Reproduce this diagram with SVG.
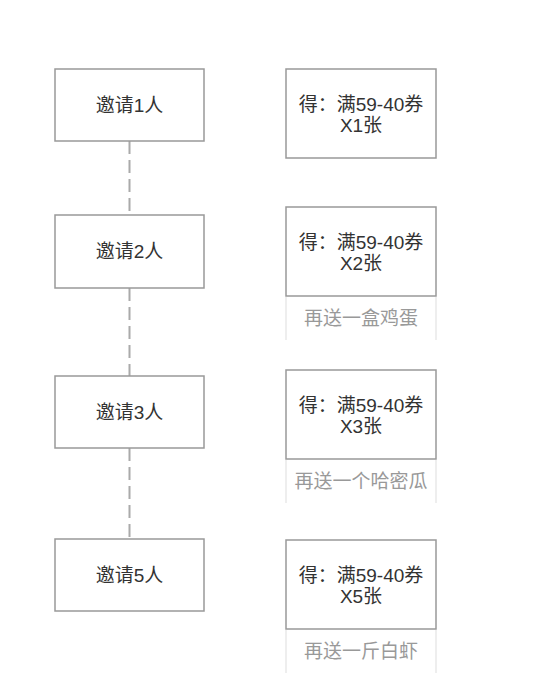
<svg xmlns="http://www.w3.org/2000/svg" width="534" height="696" viewBox="0 0 534 696">
<style>
.box{fill:#fff;stroke:#999;stroke-width:1.5}
.t{font-family:"Liberation Sans","Noto Sans CJK SC",sans-serif;font-size:19px;fill:#333;text-anchor:middle}
.s{font-family:"Liberation Sans","Noto Sans CJK SC",sans-serif;font-size:19px;fill:#999;text-anchor:middle}
.side{stroke:#e8e8e8;stroke-width:1.5}
.dash{stroke:#aaa;stroke-width:2;stroke-dasharray:13 6;fill:none}
</style>
<rect width="534" height="696" fill="#fff"/>
<g id="connectors">
<line class="dash" x1="129.5" y1="141" x2="129.5" y2="215"/>
<line class="dash" x1="129.5" y1="288" x2="129.5" y2="376"/>
<line class="dash" x1="129.5" y1="448" x2="129.5" y2="539"/>
</g>
<g id="invite1"><rect class="box" x="55" y="69" width="149" height="72"/><text class="t" x="129.5" y="112">邀请1人</text></g>
<g id="invite2"><rect class="box" x="55" y="215" width="149" height="73"/><text class="t" x="129.5" y="258">邀请2人</text></g>
<g id="invite3"><rect class="box" x="55" y="376" width="149" height="72"/><text class="t" x="129.5" y="419">邀请3人</text></g>
<g id="invite5"><rect class="box" x="55" y="539" width="149" height="72"/><text class="t" x="129.5" y="582">邀请5人</text></g>
<g id="reward1"><rect class="box" x="286" y="69" width="150" height="89"/><text class="t" x="361" y="111">得：满59-40券</text><text class="t" x="361" y="132">X1张</text></g>
<g id="reward2"><rect class="box" x="286" y="207" width="150" height="89"/><text class="t" x="361" y="249">得：满59-40券</text><text class="t" x="361" y="270">X2张</text>
<line class="side" x1="286" y1="297" x2="286" y2="340"/><line class="side" x1="436" y1="297" x2="436" y2="340"/><text class="s" x="361" y="325">再送一盒鸡蛋</text></g>
<g id="reward3"><rect class="box" x="286" y="370" width="150" height="89"/><text class="t" x="361" y="412">得：满59-40券</text><text class="t" x="361" y="433">X3张</text>
<line class="side" x1="286" y1="460" x2="286" y2="503"/><line class="side" x1="436" y1="460" x2="436" y2="503"/><text class="s" x="361" y="488">再送一个哈密瓜</text></g>
<g id="reward5"><rect class="box" x="286" y="540" width="150" height="89"/><text class="t" x="361" y="582">得：满59-40券</text><text class="t" x="361" y="603">X5张</text>
<line class="side" x1="286" y1="630" x2="286" y2="673"/><line class="side" x1="436" y1="630" x2="436" y2="673"/><text class="s" x="361" y="658">再送一斤白虾</text></g>
</svg>
